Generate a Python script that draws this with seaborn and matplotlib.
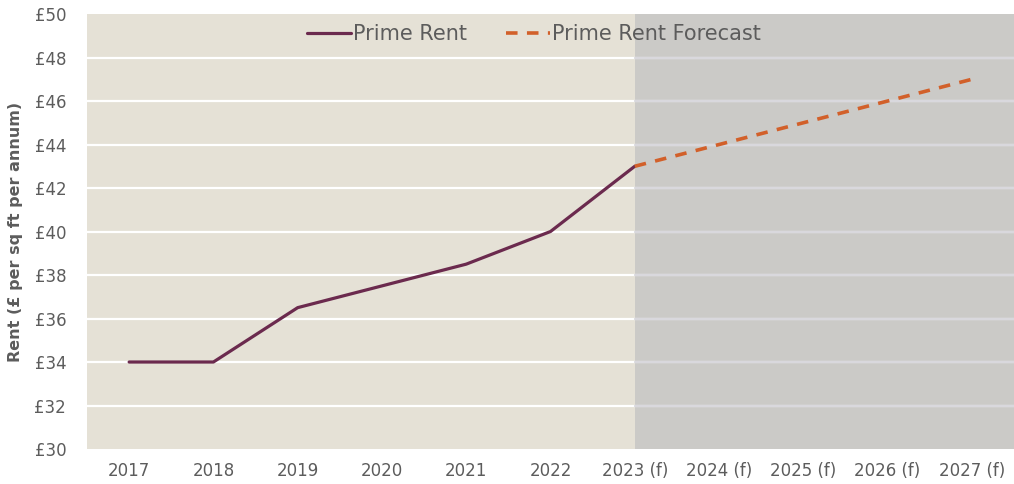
import numpy as np
import pandas as pd
import seaborn as sns
import matplotlib
matplotlib.use("Agg")
import matplotlib.pyplot as plt

# data
years = ["2017", "2018", "2019", "2020", "2021", "2022",
         "2023 (f)", "2024 (f)", "2025 (f)", "2026 (f)", "2027 (f)"]
prime_rent = [34, 34, 36.5, 37.5, 38.5, 40, 43]
forecast_years = years[6:]
forecast_rent = [43, 44, 45, 46, 47]
y_ticks = list(range(30, 51, 2))

df_rent = pd.DataFrame({"year": years[:len(prime_rent)], "rent": prime_rent})
df_fc = pd.DataFrame({"year": forecast_years, "rent": forecast_rent})

sns.set_style("white")
plt.rcParams["font.family"] = ["DejaVu Sans"]

text_col = "#5c5c5c"
beige = "#e5e1d6"
grey = "#cbcac7"
purple = "#6b2a4e"
orange = "#d2602a"

fig = plt.figure(figsize=(10.14, 4.84), dpi=100)
ax = fig.add_axes([0.0858, 0.0723, 0.9142, 0.8987])

# categorical axis first so the spans use the same positions
sns.lineplot(data=df_rent, x="year", y="rent", ax=ax, color=purple,
             linewidth=2.3, label="Prime Rent", zorder=4)
sns.lineplot(data=df_fc, x="year", y="rent", ax=ax, color=orange,
             linewidth=2.6, linestyle=(0, (3.2, 2.6)), label="Prime Rent Forecast",
             zorder=4)

ax.set_xticks(range(len(years)))
ax.set_xticklabels(years)
ax.set_xlim(-0.5, len(years) - 0.5)
ax.set_ylim(30, 50)
ax.set_yticks(y_ticks)
ax.set_yticklabels([f"£{v}" for v in y_ticks])

ax.set_facecolor(beige)
ax.axvspan(years.index("2023 (f)"), len(years) - 0.5, color=grey, lw=0, zorder=0.5)
for v in y_ticks[1:-1]:
    ax.axhline(v, color="white", lw=1.6, zorder=1)
    ax.axhline(v, xmin=(6.5) / 11, xmax=1, color="#d9d8dd", lw=1.6, zorder=1.1)

for s in ax.spines.values():
    s.set_visible(False)
ax.tick_params(axis="both", length=0, labelsize=12, colors=text_col)
ax.tick_params(axis="x", pad=9)
ax.tick_params(axis="y", pad=15)

ax.set_xlabel("")
ax.set_ylabel("Rent (£ per sq ft per annum)", fontsize=11.5, fontweight="bold",
              color=text_col, labelpad=8)

leg = ax.legend(loc="upper center", bbox_to_anchor=(0.482, 1.02), ncol=2,
                frameon=False, fontsize=15, handlelength=2.1,
                handletextpad=0.1, columnspacing=1.9)
for t in leg.get_texts():
    t.set_color(text_col)

fig.savefig("out.png", dpi=100, facecolor="white")
